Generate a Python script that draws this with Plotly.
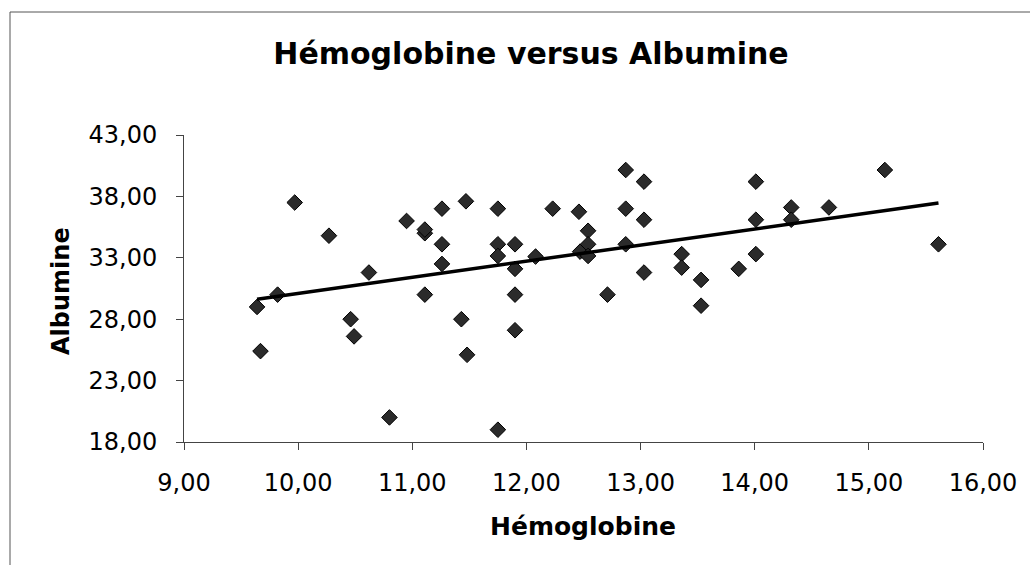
import numpy as np
import plotly.graph_objects as go

hemoglobine = [9.64, 9.67, 9.82, 9.97, 10.27, 10.46, 10.49, 10.62, 10.80, 10.95,
               11.11, 11.11, 11.11, 11.26, 11.26, 11.26, 11.43, 11.47, 11.48,
               11.75, 11.75, 11.75, 11.75, 11.90, 11.90, 11.90, 11.90, 12.08,
               12.23, 12.46, 12.47, 12.54, 12.54, 12.54, 12.71, 12.87, 12.87,
               12.87, 13.03, 13.03, 13.03, 13.36, 13.36, 13.53, 13.53, 13.86,
               14.01, 14.01, 14.01, 14.32, 14.32, 14.65, 15.14, 15.61]
albumine = [29.0, 25.4, 30.0, 37.5, 34.8, 28.0, 26.6, 31.8, 20.0, 36.0,
            35.0, 35.3, 30.0, 37.0, 34.1, 32.5, 28.0, 37.6, 25.1,
            37.0, 34.1, 33.15, 19.0, 34.1, 32.1, 30.0, 27.1, 33.1,
            37.0, 36.75, 33.5, 35.2, 34.1, 33.15, 30.0, 40.15, 37.0,
            34.1, 39.2, 36.1, 31.8, 33.3, 32.2, 31.2, 29.1, 32.1,
            33.3, 36.1, 39.2, 37.1, 36.1, 37.1, 40.15, 34.1]

x_ticks = [9, 10, 11, 12, 13, 14, 15, 16]
x_tick_labels = ["9,00", "10,00", "11,00", "12,00", "13,00", "14,00", "15,00", "16,00"]
y_ticks = [18, 23, 28, 33, 38, 43]
y_tick_labels = ["18,00", "23,00", "28,00", "33,00", "38,00", "43,00"]

# linear trend line computed from data
slope, intercept = np.polyfit(hemoglobine, albumine, 1)
trend_x = [min(hemoglobine), max(hemoglobine)]
trend_y = [slope * v + intercept for v in trend_x]

FONT = "DejaVu Sans"

fig = go.Figure()
fig.add_trace(go.Scatter(
    x=hemoglobine, y=albumine, mode="markers",
    marker=dict(symbol="diamond", size=12, color="#2b2b2b",
                line=dict(color="#000000", width=1)),
    showlegend=False, hoverinfo="x+y"))
fig.add_trace(go.Scatter(
    x=trend_x, y=trend_y, mode="lines",
    line=dict(color="#000000", width=3.5), showlegend=False))

fig.update_layout(
    width=1030, height=565,
    margin=dict(l=184, r=47, t=135, b=123),
    paper_bgcolor="white", plot_bgcolor="white",
    font=dict(family=FONT, color="#000000"),
    title=dict(text="<b>Hémoglobine versus Albumine</b>",
               font=dict(family=FONT, size=30, color="#000000"),
               x=531 / 1030, xanchor="center", xref="container",
               y=1 - 53 / 565, yanchor="middle", yref="container"),
    xaxis=dict(range=[9, 16], tickvals=x_ticks, ticktext=x_tick_labels,
               showgrid=False, zeroline=False, showline=True,
               linecolor="#444444", linewidth=1, ticks="outside", ticklen=7,
               tickcolor="#444444", ticklabelstandoff=12,
               tickfont=dict(family=FONT, size=24, color="#000000")),
    yaxis=dict(range=[18, 43], tickvals=y_ticks, ticktext=y_tick_labels,
               showgrid=False, zeroline=False, showline=True,
               linecolor="#444444", linewidth=1, ticks="outside", ticklen=7,
               tickcolor="#444444", ticklabelstandoff=14,
               tickfont=dict(family=FONT, size=24, color="#000000")),
    annotations=[
        dict(text="<b>Hémoglobine</b>", xref="paper", yref="paper",
             x=(583 - 184) / 799, y=(442 - 526) / 307,
             xanchor="center", yanchor="middle", showarrow=False,
             font=dict(family=FONT, size=25, color="#000000")),
        dict(text="<b>Albumine</b>", xref="paper", yref="paper",
             x=(61 - 184) / 799, y=(442 - 291) / 307, textangle=-90,
             xanchor="center", yanchor="middle", showarrow=False,
             font=dict(family=FONT, size=24, color="#000000")),
    ],
    shapes=[
        dict(type="line", xref="paper", yref="paper",
             x0=(10 - 184) / 799, x1=(1040 - 184) / 799,
             y0=(442 - 12) / 307, y1=(442 - 12) / 307,
             line=dict(color="#555555", width=1)),
        dict(type="line", xref="paper", yref="paper",
             x0=(10 - 184) / 799, x1=(10 - 184) / 799,
             y0=(442 - 12) / 307, y1=(442 - 580) / 307,
             line=dict(color="#555555", width=1)),
    ],
)

fig.write_html("out.html", config={"displayModeBar": False},
               post_script="document.body.style.margin='0';document.body.style.padding='0';document.body.style.overflow='hidden';")
